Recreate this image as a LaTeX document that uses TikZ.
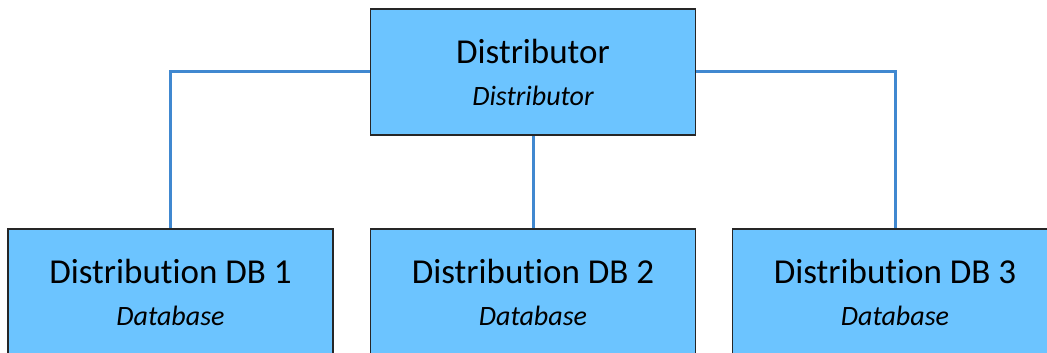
\documentclass[tikz,border=0pt]{standalone}
\usepackage{fontspec}
\setmainfont{Carlito}[Ligatures=NoCommon]
\definecolor{boxblue}{RGB}{108,196,255}
\definecolor{lineblue}{RGB}{64,136,208}
\begin{document}
\begin{tikzpicture}[x=1pt,y=-1pt,
    unit/.style={draw=black!85, line width=1.6pt, fill=boxblue, minimum width=325pt, minimum height=126pt,
        align=center, inner sep=0pt, font=\fontsize{35}{42}\selectfont},
    link/.style={draw=lineblue, line width=3pt}]
    % 画布范围
    \useasboundingbox (0,0) rectangle (1047,353);
    \clip (0,0) rectangle (1047,353);

    % 绘制分发器
    \node[unit] (dist) at (533,72) {Distributor\\{\fontsize{28}{28}\selectfont\itshape Distributor}};

    % 绘制三个数据库
    \node[unit] (db1) at (170.5,292) {Distribution DB 1\\{\fontsize{28}{28}\selectfont\itshape Database}};
    \node[unit] (db2) at (533,292) {Distribution DB 2\\{\fontsize{28}{28}\selectfont\itshape Database}};
    \node[unit] (db3) at (895,292) {Distribution DB 3\\{\fontsize{28}{28}\selectfont\itshape Database}};

    % 绘制连接线
    \draw[link] (dist.west) -| (db1.north);
    \draw[link] (dist.south) -- (db2.north);
    \draw[link] (dist.east) -| (db3.north);
\end{tikzpicture}
\end{document}
